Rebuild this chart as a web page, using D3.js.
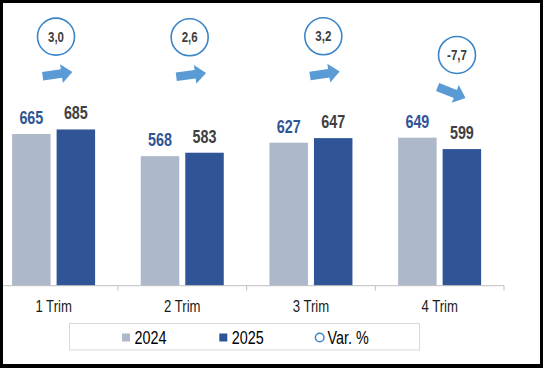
<!DOCTYPE html>
<html>
<head>
<meta charset="utf-8">
<script src="https://cdn.jsdelivr.net/npm/d3@7"></script>
<style>
  html, body { margin: 0; padding: 0; background: #000; }
  svg { display: block; }
  text { font-family: "Liberation Sans", Arial, sans-serif; }
</style>
</head>
<body>
<svg id="chart" width="543" height="368"></svg>
<script>
// ---- data ------------------------------------------------------------
const categories = ['1 Trim', '2 Trim', '3 Trim', '4 Trim'];
const series = ['2024', '2025'];
const values2024 = [665, 568, 627, 649];
const values2025 = [685, 583, 647, 599];
const varPct = [3.0, 2.6, 3.2, -7.7];
const legendLabels = ['2024', '2025', 'Var. %'];

const colors = { '2024': '#adb9ca', '2025': '#2f5597' };
const labelColors = { '2024': '#2f5597', '2025': '#404040' };
const arrowColor = '#5b9bd5';
const ringColor = '#3a85c8';

const fmt = v => d3.format('.1f')(v).replace('.', ',').replace('\u2212', '-');

// no narrow font installed, so squeeze Liberation Sans horizontally (Arial Narrow look)
const NARROW = 0.82;
const narrow = (px, py) => `translate(${px},${py}) scale(${NARROW},1)`;

// ---- frame -----------------------------------------------------------
const svg = d3.select('#chart');
svg.append('rect')
  .attr('x', 3).attr('y', 3)
  .attr('width', 537).attr('height', 361)
  .attr('fill', '#fff');

svg.append('clipPath').attr('id', 'inner')
  .append('rect').attr('x', 3).attr('y', 3).attr('width', 537).attr('height', 361);

const g = svg.append('g').attr('clip-path', 'url(#inner)');

// ---- scales ----------------------------------------------------------
// plot area is cropped on the left in the original, so the band range starts off-canvas
const x = d3.scaleBand().domain(categories).range([-10.7, 504]).paddingInner(0).paddingOuter(0);
const xSub = d3.scaleBand().domain(series).range([22.8, 105.8]).paddingInner(0.135);
const y = d3.scaleLinear().domain([0, 1200]).range([285.7, 12]);

// variation markers sit on their own scales
const xVar = d3.scalePoint().domain(categories).range([56, 457]);
const yVar = d3.scaleLinear().domain([-10, 5]).range([58.9, 33.2]);
const angle = d3.scaleLinear().domain([-10, 10]).range([28, -28]);

const rows = categories.map((c, i) => ({
  cat: c,
  bars: [
    { s: '2024', v: values2024[i] },
    { s: '2025', v: values2025[i] }
  ],
  pct: varPct[i]
}));

// ---- bars ------------------------------------------------------------
const groups = g.selectAll('g.cat').data(rows).join('g')
  .attr('class', 'cat')
  .attr('transform', d => `translate(${x(d.cat)},0)`);

groups.selectAll('rect').data(d => d.bars).join('rect')
  .attr('x', d => xSub(d.s))
  .attr('width', xSub.bandwidth())
  .attr('y', d => y(d.v))
  .attr('height', d => y(0) - y(d.v))
  .attr('fill', d => colors[d.s]);

groups.selectAll('text.val').data(d => d.bars).join('text')
  .attr('class', 'val')
  .attr('transform', d => narrow(xSub(d.s) + xSub.bandwidth() / 2, y(d.v) - 10))
  .attr('text-anchor', 'middle')
  .attr('font-size', 17.5)
  .attr('font-weight', 'bold')
  .attr('fill', d => labelColors[d.s])
  .text(d => d.v);

// ---- x axis ----------------------------------------------------------
const axis = g.append('g').attr('transform', `translate(0,${y(0)})`);
axis.append('line')
  .attr('x1', x.range()[0]).attr('x2', x.range()[1])
  .attr('stroke', '#bfbfbf').attr('stroke-width', 1);
axis.selectAll('line.tick').data(categories).join('line')
  .attr('class', 'tick')
  .attr('x1', d => x(d) + x.bandwidth()).attr('x2', d => x(d) + x.bandwidth())
  .attr('y1', 0).attr('y2', 5)
  .attr('stroke', '#bfbfbf');
axis.selectAll('text').data(categories).join('text')
  .attr('transform', d => narrow(x(d) + x.bandwidth() / 2, 26))
  .attr('text-anchor', 'middle')
  .attr('font-size', 16)
  .attr('fill', '#1a1a1a')
  .text(d => d);

// ---- variation circles + arrows ---------------------------------------
const marks = g.selectAll('g.var').data(rows).join('g').attr('class', 'var');

marks.append('circle')
  .attr('cx', d => xVar(d.cat))
  .attr('cy', d => yVar(d.pct))
  .attr('r', 18.5)
  .attr('fill', '#fff')
  .attr('stroke', ringColor)
  .attr('stroke-width', 1.6);

marks.append('text')
  .attr('transform', d => narrow(xVar(d.cat), yVar(d.pct) + 5))
  .attr('text-anchor', 'middle')
  .attr('font-size', 14)
  .attr('font-weight', 'bold')
  .attr('fill', '#404040')
  .text(d => fmt(d.pct));

// block arrow pointing right, centred on its origin
const arrowPath = 'M-15,-4.3 L4,-4.3 L4,-9.5 L15,0 L4,9.5 L4,4.3 L-15,4.3 Z';
marks.append('path')
  .attr('d', arrowPath)
  .attr('fill', arrowColor)
  .attr('transform', d => {
    const dx = 1.5 + Math.min(0, d.pct) * 0.9;
    return `translate(${xVar(d.cat) + dx},${yVar(d.pct) + 37.5}) rotate(${angle(d.pct)})`;
  });

// ---- legend ----------------------------------------------------------
const legend = svg.append('g');
legend.append('rect')
  .attr('x', 69.5).attr('y', 323.5)
  .attr('width', 350).attr('height', 26.5)
  .attr('fill', '#fff')
  .attr('stroke', '#d9d9d9');

const legendX = d3.scaleOrdinal().domain(legendLabels).range([122, 219.3, 315]);
const items = legend.selectAll('g.item').data(legendLabels).join('g')
  .attr('class', 'item')
  .attr('transform', d => `translate(${legendX(d)},337.5)`);

items.filter(d => d !== 'Var. %').append('rect')
  .attr('x', 0).attr('y', -4).attr('width', 8).attr('height', 8)
  .attr('fill', d => colors[d]);
items.filter(d => d === 'Var. %').append('circle')
  .attr('cx', 4.7).attr('cy', 0).attr('r', 4.3)
  .attr('fill', '#fff').attr('stroke', ringColor).attr('stroke-width', 1.5);
items.append('text')
  .attr('transform', narrow(12.5, 6.5))
  .attr('font-size', 17.5)
  .attr('fill', '#000')
  .text(d => d);
</script>
</body>
</html>
